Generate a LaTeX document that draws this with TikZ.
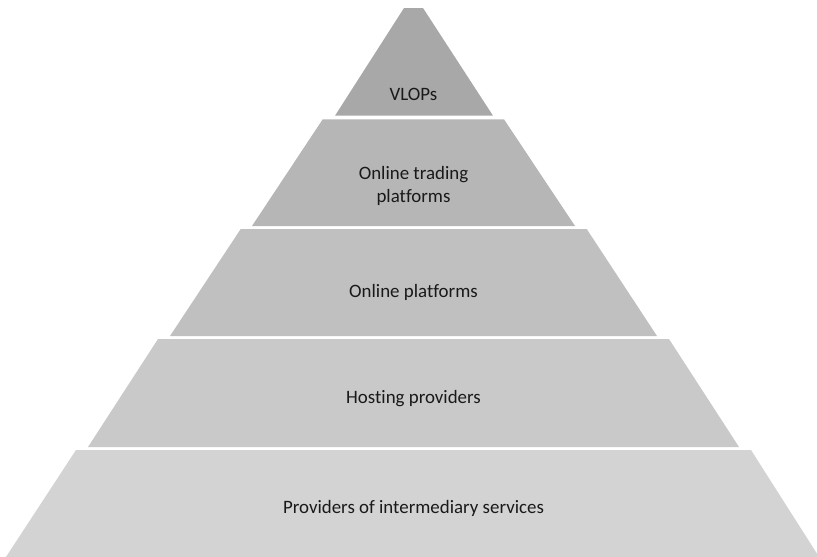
\documentclass[tikz,border=0pt]{standalone}
\usepackage{fontspec}
\setmainfont[Ligatures=NoCommon]{Carlito}
\definecolor{lay1}{HTML}{A8A8A8}
\definecolor{lay2}{HTML}{B6B6B6}
\definecolor{lay3}{HTML}{C0C0C0}
\definecolor{lay4}{HTML}{C9C9C9}
\definecolor{lay5}{HTML}{D3D3D3}
\begin{document}
\begin{tikzpicture}[x=1pt,y=-1pt,
  lbl/.style={font=\fontsize{18.9}{22.5}\selectfont, text=black!90, align=center, inner sep=0pt}]
\useasboundingbox (0,0) rectangle (817,557);
\clip (0,0) rectangle (817,557);
\fill[lay1] (404,8) -- (423,8) -- (493,115.7) -- (335,115.7) -- cycle;
\fill[lay2] (322.7,119.3) -- (504,119.3) -- (575,226) -- (252,226) -- cycle;
\fill[lay3] (240.7,229) -- (586.7,229) -- (657,336) -- (170,336) -- cycle;
\fill[lay4] (158,339) -- (669,339) -- (739,447) -- (88,447) -- cycle;
\fill[lay5] (76,450) -- (751,450) -- (821,560) -- (4,560) -- cycle;
\node[lbl] (t1) at (413.5,94) {VLOPs};
\node[lbl] (t2) at (413.5,186) {Online trading\\platforms};
\node[lbl] (t3) at (413.5,292) {Online platforms};
\node[lbl] (t4) at (413.5,399) {Hosting providers};
\node[lbl] (t5) at (413.5,508) {Providers of intermediary services};
\end{tikzpicture}
\end{document}
